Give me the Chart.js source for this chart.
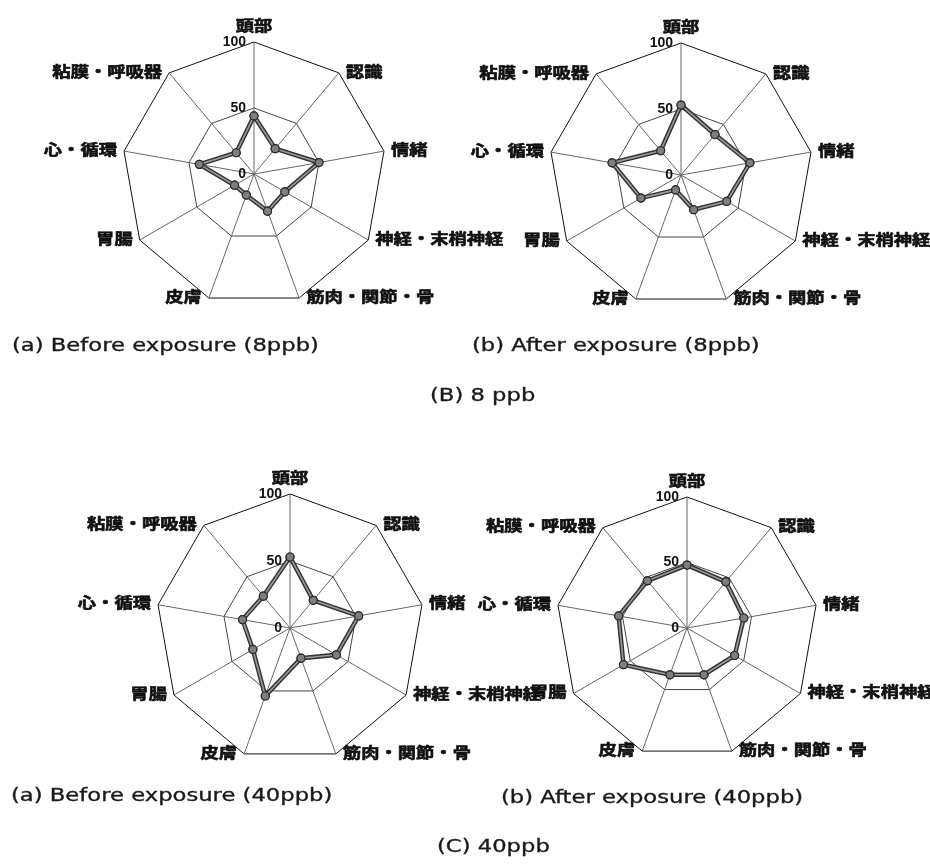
<!DOCTYPE html>
<html lang="ja">
<head>
<meta charset="utf-8">
<title>症状プロフィール</title>
<script src="https://cdn.jsdelivr.net/npm/chart.js@4.4.1/dist/chart.umd.min.js"></script>
<style>
  html, body { margin: 0; padding: 0; background: #fff; }
  body { position: relative; width: 930px; height: 867px; overflow: hidden; }
  canvas { position: absolute; }
  .cap {
    position: absolute;
    font-family: "DejaVu Sans", "Noto Sans", sans-serif;
    font-size: 18px;
    line-height: 1;
    color: #1a1a1a;
    -webkit-text-stroke: 0.35px #1a1a1a;
    white-space: nowrap;
    transform-origin: 0 50%;
    transform: translateY(-50%) scaleX(1.26);
  }
</style>
</head>
<body>
<script>
// Symptom categories, clockwise from the top axis
const categories = ['頭部', '認識', '情緒', '神経・末梢神経', '筋肉・関節・骨', '皮膚', '胃腸', '心・循環', '粘膜・呼吸器'];

// Scores per category (0–100)
const before8ppb  = [44, 25, 50, 27, 30, 17, 17, 42, 21];
const after8ppb   = [53, 40, 53, 40, 28, 12, 35, 53, 24];
const before40ppb = [53, 27, 52, 40, 24, 54, 32, 36, 31];
const after40ppb  = [48, 46, 44, 42, 38, 38, 56, 53, 47];

const scaleMin = 0;
const scaleMax = 100;
const scaleStep = 50;

// Panel placement: centre and outer radius in page pixels
const panels = [
  { data: before8ppb,  cx: 254, cy: 174, r: 132 },
  { data: after8ppb,   cx: 681, cy: 175, r: 132 },
  { data: before40ppb, cx: 290, cy: 628, r: 134 },
  { data: after40ppb,  cx: 687, cy: 628, r: 131 }
];

const captions = [
  { text: '(a) Before exposure (8ppb)',  x: 12,  y: 345 },
  { text: '(b) After exposure (8ppb)',   x: 472, y: 345 },
  { text: '(B) 8 ppb',                   x: 430, y: 395 },
  { text: '(a) Before exposure (40ppb)', x: 11,  y: 795 },
  { text: '(b) After exposure (40ppb)',  x: 501, y: 797 },
  { text: '(C) 40ppb',                   x: 437, y: 846 }
];

const PAD = 150; // room around the web for the axis labels

// Draws the value ticks (left of the top axis) and the category labels
const radarText = {
  id: 'radarText',
  afterDraw(chart) {
    const s = chart.scales.r;
    const ctx = chart.ctx;
    ctx.save();
    ctx.fillStyle = '#111';
    ctx.strokeStyle = '#111';

    ctx.font = 'bold 14px "Liberation Sans", Arial, sans-serif';
    ctx.textAlign = 'right';
    ctx.textBaseline = 'middle';
    s.ticks.forEach(t => {
      const d = s.getDistanceFromCenterForValue(t.value);
      ctx.fillText(t.label, s.xCenter - 8, s.yCenter - d);
    });

    ctx.font = 'bold 15px "Noto Sans CJK JP", sans-serif';
    ctx.lineWidth = 0.6;
    const n = chart.data.labels.length;
    chart.data.labels.forEach((lab, i) => {
      const p = s.getPointPosition(i, s.drawingArea);
      const deg = Math.round(i * 360 / n);
      let x = p.x, y = p.y, align, base = 'middle';
      if (deg === 0) { align = 'center'; base = 'bottom'; y -= 9; }
      else if (deg < 180) { align = 'left'; x += 7; y -= 2; }
      else if (deg === 180) { align = 'center'; base = 'top'; y += 6; }
      else { align = 'right'; x -= 7; y -= 2; }
      ctx.save();
      ctx.translate(x, y);
      ctx.scale(1.22, 1);
      ctx.textAlign = align;
      ctx.textBaseline = base;
      ctx.fillText(lab, 0, 0);
      ctx.strokeText(lab, 0, 0);
      ctx.restore();
    });
    ctx.restore();
  }
};

// Lighter core stroke inside the dark series line, then markers on top
const twoToneLine = {
  id: 'twoToneLine',
  afterDatasetDraw(chart, args) {
    const ctx = chart.ctx;
    const pts = args.meta.data;
    ctx.save();
    ctx.beginPath();
    pts.forEach((p, i) => (i ? ctx.lineTo(p.x, p.y) : ctx.moveTo(p.x, p.y)));
    ctx.closePath();
    ctx.strokeStyle = '#9a9a9a';
    ctx.lineWidth = 1.6;
    ctx.lineJoin = 'round';
    ctx.stroke();
    ctx.restore();
    pts.forEach(p => p.draw(ctx, chart.chartArea));
  }
};

panels.forEach(pn => {
  const size = 2 * pn.r + 2 * PAD;
  const cv = document.createElement('canvas');
  cv.width = size;
  cv.height = size;
  cv.style.width = size + 'px';
  cv.style.height = size + 'px';
  cv.style.left = (pn.cx - pn.r - PAD) + 'px';
  cv.style.top = (pn.cy - pn.r - PAD) + 'px';
  document.body.appendChild(cv);

  new Chart(cv, {
    type: 'radar',
    data: {
      labels: categories,
      datasets: [{
        data: pn.data,
        borderColor: '#333',
        borderWidth: 4.5,
        backgroundColor: 'rgba(0,0,0,0)',
        fill: false,
        tension: 0,
        pointRadius: 4,
        pointBackgroundColor: '#7e7e7e',
        pointBorderColor: '#2a2a2a',
        pointBorderWidth: 1.2
      }]
    },
    options: {
      responsive: false,
      animation: false,
      events: [],
      layout: { padding: PAD },
      plugins: { legend: { display: false }, tooltip: { enabled: false } },
      scales: {
        r: {
          min: scaleMin,
          max: scaleMax,
          ticks: { stepSize: scaleStep, display: false },
          pointLabels: { display: false },
          grid: {
            color: c => (c.tick && c.tick.value === scaleMax ? '#111' : '#444'),
            lineWidth: 1
          },
          angleLines: { color: '#666', lineWidth: 1 }
        }
      }
    },
    plugins: [twoToneLine, radarText]
  });
});

captions.forEach(c => {
  const d = document.createElement('div');
  d.className = 'cap';
  d.textContent = c.text;
  d.style.left = c.x + 'px';
  d.style.top = c.y + 'px';
  document.body.appendChild(d);
});
</script>
</body>
</html>
